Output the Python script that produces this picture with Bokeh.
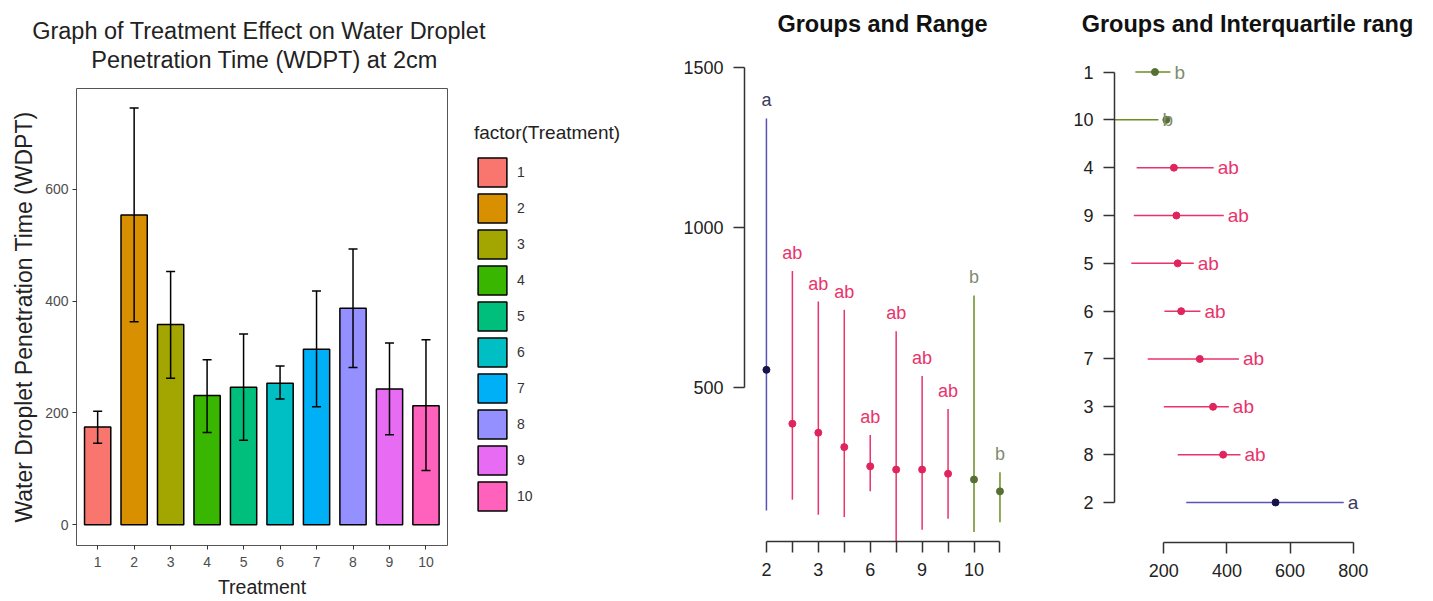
from bokeh.plotting import figure
from bokeh.layouts import row, column
from bokeh.models import (ColumnDataSource, FixedTicker, Whisker, TeeHead, Legend,
                          LegendItem, Label, Range1d)
from bokeh.embed import file_html
from bokeh.resources import INLINE
from bokeh.core.properties import value
from bokeh.core.validation import silence
from bokeh.core.validation.warnings import MISSING_RENDERERS

silence(MISSING_RENDERERS, True)

FONT = "Liberation Sans"

# ---------------- data ----------------
treatments = ["1", "2", "3", "4", "5", "6", "7", "8", "9", "10"]
wdpt_mean = [175, 554, 358, 231, 246, 253, 314, 387, 243, 213]
wdpt_upper = [203, 745, 453, 295, 341, 284, 418, 493, 325, 331]
wdpt_lower = [146, 363, 262, 165, 151, 225, 211, 281, 161, 97]
bar_colors = ["#F8766D", "#D89000", "#A3A500", "#39B600", "#00BF7D",
              "#00BFC4", "#00B0F6", "#9590FF", "#E76BF3", "#FF62BC"]

# groups ordered by mean (panel 2 left->right, panel 3 bottom->top)
group_order = ["2", "8", "3", "7", "6", "5", "9", "4", "10", "1"]
group_letters = ["a", "ab", "ab", "ab", "ab", "ab", "ab", "ab", "b", "b"]

range_mean = [556, 388, 360, 315, 255, 245, 245, 232, 214, 177]
range_max = [1340, 864, 769, 743, 353, 676, 537, 434, 788, 237]
range_min = [117, 151, 104, 97, 177, 20, 57, 92, 50, 81]

iqr_mean = [554, 388, 356, 314, 255, 244, 240, 232, 208, 172]
iqr_q1 = [271, 244, 200, 149, 202, 97, 105, 114, 40, 110]
iqr_q3 = [770, 443, 406, 438, 316, 295, 390, 358, 183, 221]

letter_line = {"a": "#5B52B6", "ab": "#E8336B", "b": "#6B8E23"}
letter_point = {"a": "#14144A", "ab": "#E0245E", "b": "#557030"}
letter_text = {"a": "#3A3A5A", "ab": "#E8336B", "b": "#7F8C6F"}


def strip(width, height):
    s = figure(width=width, height=height, output_backend="svg", toolbar_location=None,
               x_range=Range1d(0, 1), y_range=Range1d(0, 1), title=None,
               x_axis_location=None, y_axis_location=None,
               min_border_left=0, min_border_right=0, min_border_top=0, min_border_bottom=0)
    s.frame_align = False
    s.outline_line_color = None
    s.grid.visible = False
    return s


def add_title(s, text, sx, sy, bold):
    s.add_layout(Label(x=sx, y=sy, x_units="screen", y_units="screen", text=text,
                       text_align="center", text_baseline="middle",
                       text_font=FONT, text_font_size="23.5px",
                       text_font_style="bold" if bold else "normal",
                       text_color="#111111" if bold else "#222222"))


# ---------------- title strip over the bar chart ----------------
t1 = strip(680, 87)
add_title(t1, "Graph of Treatment Effect on Water Droplet", 258.5, 57, False)
add_title(t1, "Penetration Time (WDPT) at 2cm", 264, 28, False)

# ---------------- panel 1: ggplot bar chart ----------------
p1 = figure(width=460, height=513, output_backend="svg", toolbar_location=None,
            x_range=Range1d(0.42, 10.59), y_range=Range1d(-37, 780), title=None,
            min_border_left=76, min_border_right=13, min_border_top=1, min_border_bottom=53)
p1.frame_align = False
p1.outline_line_color = "#555555"
p1.outline_line_width = 1
p1.grid.visible = False

src = ColumnDataSource(dict(x=list(range(1, 11)), top=wdpt_mean, upper=wdpt_upper,
                            lower=wdpt_lower, color=bar_colors, label=treatments))
bars = p1.vbar(x="x", top="top", bottom=0, width=0.72, fill_color="color",
               line_color="black", line_width=1.5, source=src)
wh = Whisker(base="x", upper="upper", lower="lower", source=src, line_color="black",
             line_width=1.5, level="annotation",
             upper_head=TeeHead(size=9, line_color="black", line_width=1.5),
             lower_head=TeeHead(size=9, line_color="black", line_width=1.5))
p1.add_layout(wh)

for ax in (p1.xaxis[0], p1.yaxis[0]):
    ax.axis_line_color = None
    ax.major_tick_line_color = "#333333"
    ax.major_tick_in = 0
    ax.major_tick_out = 4
    ax.minor_tick_line_color = None
    ax.major_label_text_font = FONT
    ax.major_label_text_font_size = "14px"
    ax.major_label_text_color = "#4D4D4D"
    ax.major_label_standoff = 4
    ax.axis_label_text_font = FONT
    ax.axis_label_text_font_style = "normal"
    ax.axis_label_text_color = "#222222"

p1.xaxis.ticker = FixedTicker(ticks=list(range(1, 11)))
p1.xaxis.major_label_overrides = {i + 1: t for i, t in enumerate(treatments)}
p1.xaxis.major_label_standoff = 7
p1.xaxis.axis_label = "Treatment"
p1.xaxis.axis_label_text_font_size = "19.5px"
p1.xaxis.axis_label_standoff = 6
p1.yaxis.ticker = FixedTicker(ticks=[0, 200, 400, 600])
p1.yaxis.axis_label = "Water Droplet Penetration Time (WDPT)"
p1.yaxis.axis_label_text_font_size = "23px"
p1.yaxis.axis_label_standoff = 5

# ---------------- legend panel (ggplot legend) ----------------
pl = strip(220, 513)
legend_bars = pl.vbar(x="x", top="top", bottom=0, width=0.72, fill_color="color",
                      line_color="black", line_width=1.5, source=src)
legend_bars.visible = False
legend = Legend(items=[LegendItem(label=t, renderers=[legend_bars], index=i)
                       for i, t in enumerate(treatments)],
                title="factor(Treatment)", location=(14, 86),
                glyph_width=36, glyph_height=36, spacing=0, padding=0, margin=0,
                label_standoff=7, title_standoff=10,
                label_text_font=FONT, label_text_font_size="14px", label_text_color="#333333",
                title_text_font=FONT, title_text_font_size="19px", title_text_color="#222222",
                title_text_font_style="normal", inactive_fill_alpha=0,
                border_line_color=None, background_fill_alpha=0)
pl.add_layout(legend)


def r_axis_style(ax):
    ax.axis_line_color = "#333333"
    ax.axis_line_width = 1.5
    ax.major_tick_line_color = "#333333"
    ax.major_tick_line_width = 1.5
    ax.major_tick_in = 0
    ax.major_tick_out = 11
    ax.minor_tick_line_color = None
    ax.major_label_text_font = FONT
    ax.major_label_text_font_size = "18px"
    ax.major_label_text_color = "#222222"
    ax.major_label_standoff = 10


# ---------------- title strip over the two group plots ----------------
t2 = strip(753, 50)
add_title(t2, "Groups and Range", 202, 27, True)
add_title(t2, "Groups and Interquartile rang", 567, 27, True)

# ---------------- panel 2: groups and range ----------------
pos = list(range(1, 11))
p2 = figure(width=380, height=550, output_backend="svg", toolbar_location=None,
            x_range=Range1d(0.155, 10.83), y_range=Range1d(20.7, 1551.7), title=None,
            min_border_left=63, min_border_right=39, min_border_top=0, min_border_bottom=59)
p2.frame_align = False
p2.outline_line_color = None
p2.grid.visible = False

src2 = ColumnDataSource(dict(x=pos, mean=range_mean, lo=range_min, hi=range_max,
                             lab=group_letters,
                             lc=[letter_line[l] for l in group_letters],
                             pc=[letter_point[l] for l in group_letters],
                             tc=[letter_text[l] for l in group_letters]))
p2.segment(x0="x", y0="lo", x1="x", y1="hi", line_color="lc", line_width=1.5, source=src2)
p2.scatter(x="x", y="mean", size=7, fill_color="pc", line_color="pc", source=src2)
p2.text(x="x", y="hi", text="lab", text_color="tc", text_align="center",
        text_baseline="bottom", y_offset=-8, text_font=value(FONT),
        text_font_size="18px", source=src2)

r_axis_style(p2.xaxis[0])
r_axis_style(p2.yaxis[0])
p2.xaxis.ticker = FixedTicker(ticks=pos)
p2.xaxis.bounds = (1, 10)
p2.xaxis.major_label_overrides = {i + 1: (g if i % 2 == 0 else "") for i, g in enumerate(group_order)}
p2.yaxis.ticker = FixedTicker(ticks=[500, 1000, 1500])
p2.yaxis.bounds = (500, 1500)

# ---------------- panel 3: groups and interquartile range ----------------
p3 = figure(width=373, height=550, output_backend="svg", toolbar_location=None,
            x_range=Range1d(43.8, 886.5), y_range=Range1d(0.163, 10.45), title=None,
            min_border_left=54, min_border_right=53, min_border_top=0, min_border_bottom=58)
p3.frame_align = False
p3.outline_line_color = None
p3.grid.visible = False

src3 = ColumnDataSource(dict(y=pos, mean=iqr_mean, q1=iqr_q1, q3=iqr_q3, lab=group_letters,
                             lc=[letter_line[l] for l in group_letters],
                             pc=[letter_point[l] for l in group_letters],
                             tc=[letter_text[l] for l in group_letters]))
p3.segment(x0="q1", y0="y", x1="q3", y1="y", line_color="lc", line_width=1.5, source=src3)
p3.scatter(x="mean", y="y", size=7, fill_color="pc", line_color="pc", source=src3)
p3.text(x="q3", y="y", text="lab", text_color="tc", text_align="left",
        text_baseline="middle", x_offset=4, text_font=value(FONT),
        text_font_size="19px", source=src3)

r_axis_style(p3.xaxis[0])
r_axis_style(p3.yaxis[0])
p3.xaxis.ticker = FixedTicker(ticks=[200, 400, 600, 800])
p3.xaxis.bounds = (200, 800)
p3.yaxis.ticker = FixedTicker(ticks=pos)
p3.yaxis.bounds = (1, 10)
p3.yaxis.major_label_overrides = {i + 1: g for i, g in enumerate(group_order)}

layout = row(column(t1, row(p1, pl)), column(t2, row(p2, p3)))
open("out.html", "w").write(file_html(layout, INLINE))
